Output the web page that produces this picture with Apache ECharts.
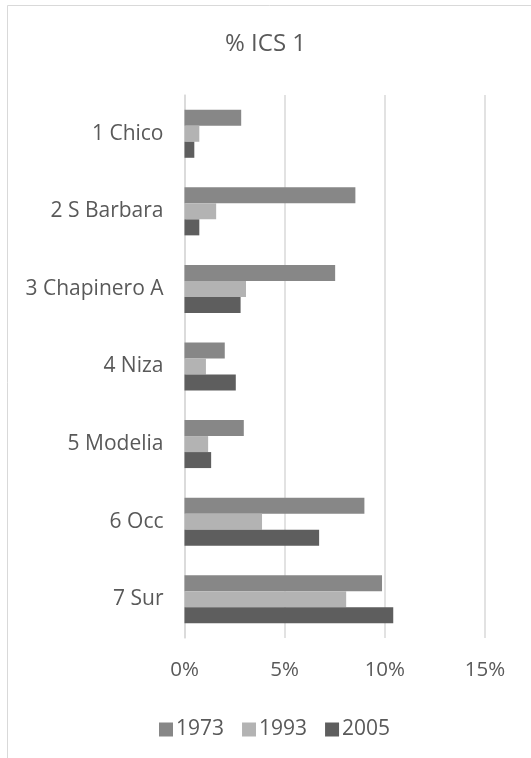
<!DOCTYPE html>
<html><head><meta charset="utf-8">
<script src="https://cdn.jsdelivr.net/npm/echarts@6/dist/echarts.min.js"></script>
<style>html,body{margin:0;padding:0;background:#fff}#c{width:531px;height:758px}</style>
</head><body><div id="c"></div>
<script>
const categories = ['1 Chico','2 S Barbara','3 Chapinero A','4 Niza','5 Modelia','6 Occ','7 Sur'];
const seriesNames = ['1973','1993','2005'];
const v1973 = [0.0283,0.0853,0.0752,0.0201,0.0296,0.0898,0.0986];
const v1993 = [0.0074,0.0158,0.0307,0.0107,0.0118,0.0387,0.0807];
const v2005 = [0.0049,0.0074,0.0280,0.0256,0.0133,0.0672,0.1042];
const xTicks = [0,0.05,0.10,0.15];
const colors = ['#878787','#b3b3b3','#5e5e5e'];

const font = '"Open Sans", "DejaVu Sans", sans-serif';
const chart = echarts.init(document.getElementById('c'), null, {renderer:'canvas'});
const data = [v1973, v1993, v2005];
chart.setOption({
  animation:false,
  backgroundColor:'#fff',
  graphic:[{type:'rect', shape:{x:7.5,y:5.5,width:560,height:800}, style:{fill:'none', stroke:'#d9d9d9', lineWidth:1}, silent:true, z:-1}],
  title:{text:'% ICS 1', left:'center', top:27, textStyle:{fontFamily:font, fontSize:24, fontWeight:'normal', color:'#595959'}},
  legend:{data:seriesNames, left:154, top:714, itemWidth:14, itemHeight:14, itemGap:18, icon:'rect',
    textStyle:{fontFamily:font, fontSize:21, color:'#595959', padding:[0,0,0,-2]}},
  grid:{left:184.5, right:46, top:95, bottom:120, containLabel:false},
  xAxis:{type:'value', min:xTicks[0], max:xTicks[xTicks.length-1], interval:0.05,
    axisLine:{show:false}, axisTick:{show:false},
    splitLine:{show:true, lineStyle:{color:'#d9d9d9', width:1.5}},
    axisLabel:{margin:22, fontFamily:font, fontSize:20.5, color:'#595959',
      formatter:v=>Math.round(v*100)+'%'}},
  yAxis:{type:'category', data:categories, inverse:true,
    axisLine:{show:true, lineStyle:{color:'#d9d9d9', width:1.5}}, axisTick:{show:false},
    axisLabel:{margin:21, fontFamily:font, fontSize:21, color:'#595959'}},
  series: seriesNames.map((n,i)=>({name:n, type:'bar', data:data[i], barWidth:16, barGap:'0%',
    itemStyle:{color:colors[i]}}))
});
</script></body></html>
